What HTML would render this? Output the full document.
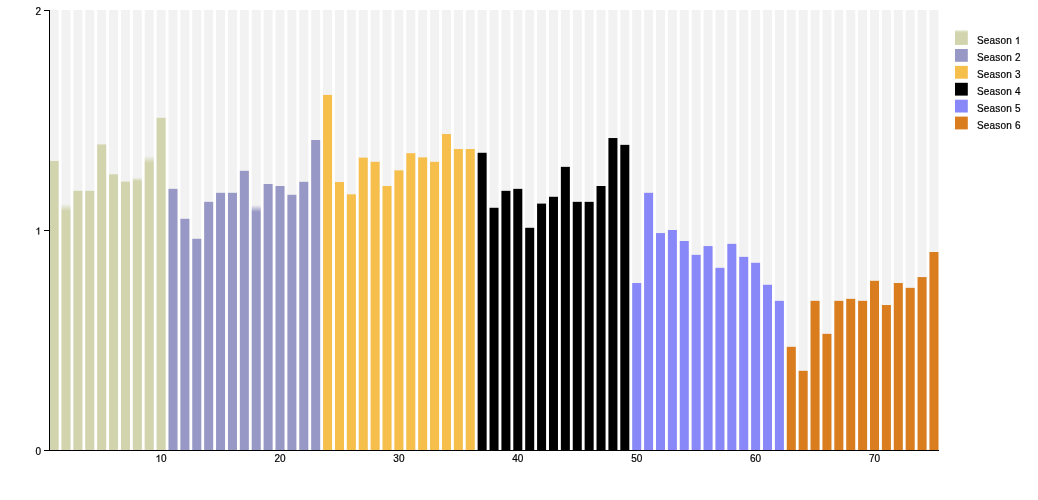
<!DOCTYPE html>
<html><head><meta charset="utf-8"><style>
html,body{margin:0;padding:0;background:#fff;width:1038px;height:500px;overflow:hidden}
svg{display:block;will-change:transform}
text{font-family:"Liberation Sans", sans-serif;font-size:10px;fill:#000;stroke:#000;stroke-width:0.2px}
.lg{letter-spacing:0.17px}
</style></head><body>
<svg width="1038" height="500" viewBox="0 0 1038 500">
<g fill="#f2f2f2"><rect x="49.60" y="10.0" width="9.0" height="440.0"/><rect x="61.49" y="10.0" width="9.0" height="440.0"/><rect x="73.38" y="10.0" width="9.0" height="440.0"/><rect x="85.27" y="10.0" width="9.0" height="440.0"/><rect x="97.16" y="10.0" width="9.0" height="440.0"/><rect x="109.05" y="10.0" width="9.0" height="440.0"/><rect x="120.94" y="10.0" width="9.0" height="440.0"/><rect x="132.83" y="10.0" width="9.0" height="440.0"/><rect x="144.72" y="10.0" width="9.0" height="440.0"/><rect x="156.61" y="10.0" width="9.0" height="440.0"/><rect x="168.50" y="10.0" width="9.0" height="440.0"/><rect x="180.39" y="10.0" width="9.0" height="440.0"/><rect x="192.28" y="10.0" width="9.0" height="440.0"/><rect x="204.17" y="10.0" width="9.0" height="440.0"/><rect x="216.06" y="10.0" width="9.0" height="440.0"/><rect x="227.95" y="10.0" width="9.0" height="440.0"/><rect x="239.84" y="10.0" width="9.0" height="440.0"/><rect x="251.73" y="10.0" width="9.0" height="440.0"/><rect x="263.62" y="10.0" width="9.0" height="440.0"/><rect x="275.51" y="10.0" width="9.0" height="440.0"/><rect x="287.40" y="10.0" width="9.0" height="440.0"/><rect x="299.29" y="10.0" width="9.0" height="440.0"/><rect x="311.18" y="10.0" width="9.0" height="440.0"/><rect x="323.07" y="10.0" width="9.0" height="440.0"/><rect x="334.96" y="10.0" width="9.0" height="440.0"/><rect x="346.85" y="10.0" width="9.0" height="440.0"/><rect x="358.74" y="10.0" width="9.0" height="440.0"/><rect x="370.63" y="10.0" width="9.0" height="440.0"/><rect x="382.52" y="10.0" width="9.0" height="440.0"/><rect x="394.41" y="10.0" width="9.0" height="440.0"/><rect x="406.30" y="10.0" width="9.0" height="440.0"/><rect x="418.19" y="10.0" width="9.0" height="440.0"/><rect x="430.08" y="10.0" width="9.0" height="440.0"/><rect x="441.97" y="10.0" width="9.0" height="440.0"/><rect x="453.86" y="10.0" width="9.0" height="440.0"/><rect x="465.75" y="10.0" width="9.0" height="440.0"/><rect x="477.64" y="10.0" width="9.0" height="440.0"/><rect x="489.53" y="10.0" width="9.0" height="440.0"/><rect x="501.42" y="10.0" width="9.0" height="440.0"/><rect x="513.31" y="10.0" width="9.0" height="440.0"/><rect x="525.20" y="10.0" width="9.0" height="440.0"/><rect x="537.09" y="10.0" width="9.0" height="440.0"/><rect x="548.98" y="10.0" width="9.0" height="440.0"/><rect x="560.87" y="10.0" width="9.0" height="440.0"/><rect x="572.76" y="10.0" width="9.0" height="440.0"/><rect x="584.65" y="10.0" width="9.0" height="440.0"/><rect x="596.54" y="10.0" width="9.0" height="440.0"/><rect x="608.43" y="10.0" width="9.0" height="440.0"/><rect x="620.32" y="10.0" width="9.0" height="440.0"/><rect x="632.21" y="10.0" width="9.0" height="440.0"/><rect x="644.10" y="10.0" width="9.0" height="440.0"/><rect x="655.99" y="10.0" width="9.0" height="440.0"/><rect x="667.88" y="10.0" width="9.0" height="440.0"/><rect x="679.77" y="10.0" width="9.0" height="440.0"/><rect x="691.66" y="10.0" width="9.0" height="440.0"/><rect x="703.55" y="10.0" width="9.0" height="440.0"/><rect x="715.44" y="10.0" width="9.0" height="440.0"/><rect x="727.33" y="10.0" width="9.0" height="440.0"/><rect x="739.22" y="10.0" width="9.0" height="440.0"/><rect x="751.11" y="10.0" width="9.0" height="440.0"/><rect x="763.00" y="10.0" width="9.0" height="440.0"/><rect x="774.89" y="10.0" width="9.0" height="440.0"/><rect x="786.78" y="10.0" width="9.0" height="440.0"/><rect x="798.67" y="10.0" width="9.0" height="440.0"/><rect x="810.56" y="10.0" width="9.0" height="440.0"/><rect x="822.45" y="10.0" width="9.0" height="440.0"/><rect x="834.34" y="10.0" width="9.0" height="440.0"/><rect x="846.23" y="10.0" width="9.0" height="440.0"/><rect x="858.12" y="10.0" width="9.0" height="440.0"/><rect x="870.01" y="10.0" width="9.0" height="440.0"/><rect x="881.90" y="10.0" width="9.0" height="440.0"/><rect x="893.79" y="10.0" width="9.0" height="440.0"/><rect x="905.68" y="10.0" width="9.0" height="440.0"/><rect x="917.57" y="10.0" width="9.0" height="440.0"/><rect x="929.46" y="10.0" width="9.0" height="440.0"/></g>
<defs><linearGradient id="f2" gradientUnits="userSpaceOnUse" x1="0" y1="203.8" x2="0" y2="211.0"><stop offset="0" stop-color="#d1d4ad" stop-opacity="0"/><stop offset="1" stop-color="#d1d4ad" stop-opacity="1"/></linearGradient><linearGradient id="f8" gradientUnits="userSpaceOnUse" x1="0" y1="177.4" x2="0" y2="181.2"><stop offset="0" stop-color="#d1d4ad" stop-opacity="0"/><stop offset="1" stop-color="#d1d4ad" stop-opacity="1"/></linearGradient><linearGradient id="f9" gradientUnits="userSpaceOnUse" x1="0" y1="155.8" x2="0" y2="163.0"><stop offset="0" stop-color="#d1d4ad" stop-opacity="0"/><stop offset="1" stop-color="#d1d4ad" stop-opacity="1"/></linearGradient><linearGradient id="f18" gradientUnits="userSpaceOnUse" x1="0" y1="205.0" x2="0" y2="211.8"><stop offset="0" stop-color="#9898c6" stop-opacity="0"/><stop offset="1" stop-color="#9898c6" stop-opacity="1"/></linearGradient><linearGradient id="lg1" x1="0" y1="0" x2="0" y2="1"><stop offset="0" stop-color="#d1d4ad" stop-opacity="0"/><stop offset="1" stop-color="#d1d4ad" stop-opacity="1"/></linearGradient></defs>
<rect x="49.60" y="160.92" width="9.0" height="289.08" fill="#d1d4ad"/><rect x="61.49" y="203.80" width="9.0" height="246.20" fill="url(#f2)"/><rect x="73.38" y="190.84" width="9.0" height="259.16" fill="#d1d4ad"/><rect x="85.27" y="190.84" width="9.0" height="259.16" fill="#d1d4ad"/><rect x="97.16" y="144.42" width="9.0" height="305.58" fill="#d1d4ad"/><rect x="109.05" y="174.34" width="9.0" height="275.66" fill="#d1d4ad"/><rect x="120.94" y="181.60" width="9.0" height="268.40" fill="#d1d4ad"/><rect x="132.83" y="177.40" width="9.0" height="272.60" fill="url(#f8)"/><rect x="144.72" y="155.80" width="9.0" height="294.20" fill="url(#f9)"/><rect x="156.61" y="117.80" width="9.0" height="332.20" fill="#d1d4ad"/><rect x="168.50" y="188.86" width="9.0" height="261.14" fill="#9898c6"/><rect x="180.39" y="218.78" width="9.0" height="231.22" fill="#9898c6"/><rect x="192.28" y="238.80" width="9.0" height="211.20" fill="#9898c6"/><rect x="204.17" y="201.84" width="9.0" height="248.16" fill="#9898c6"/><rect x="216.06" y="192.82" width="9.0" height="257.18" fill="#9898c6"/><rect x="227.95" y="192.82" width="9.0" height="257.18" fill="#9898c6"/><rect x="239.84" y="170.82" width="9.0" height="279.18" fill="#9898c6"/><rect x="251.73" y="205.00" width="9.0" height="245.00" fill="url(#f18)"/><rect x="263.62" y="184.02" width="9.0" height="265.98" fill="#9898c6"/><rect x="275.51" y="186.00" width="9.0" height="264.00" fill="#9898c6"/><rect x="287.40" y="194.80" width="9.0" height="255.20" fill="#9898c6"/><rect x="299.29" y="181.82" width="9.0" height="268.18" fill="#9898c6"/><rect x="311.18" y="140.02" width="9.0" height="309.98" fill="#9898c6"/><rect x="323.07" y="94.92" width="9.0" height="355.08" fill="#f6be4a"/><rect x="334.96" y="182.04" width="9.0" height="267.96" fill="#f6be4a"/><rect x="346.85" y="194.36" width="9.0" height="255.64" fill="#f6be4a"/><rect x="358.74" y="157.62" width="9.0" height="292.38" fill="#f6be4a"/><rect x="370.63" y="161.80" width="9.0" height="288.20" fill="#f6be4a"/><rect x="382.52" y="186.00" width="9.0" height="264.00" fill="#f6be4a"/><rect x="394.41" y="170.38" width="9.0" height="279.62" fill="#f6be4a"/><rect x="406.30" y="153.22" width="9.0" height="296.78" fill="#f6be4a"/><rect x="418.19" y="157.40" width="9.0" height="292.60" fill="#f6be4a"/><rect x="430.08" y="161.80" width="9.0" height="288.20" fill="#f6be4a"/><rect x="441.97" y="134.08" width="9.0" height="315.92" fill="#f6be4a"/><rect x="453.86" y="149.04" width="9.0" height="300.96" fill="#f6be4a"/><rect x="465.75" y="149.04" width="9.0" height="300.96" fill="#f6be4a"/><rect x="477.64" y="152.78" width="9.0" height="297.22" fill="#000000"/><rect x="489.53" y="207.78" width="9.0" height="242.22" fill="#000000"/><rect x="501.42" y="190.84" width="9.0" height="259.16" fill="#000000"/><rect x="513.31" y="188.86" width="9.0" height="261.14" fill="#000000"/><rect x="525.20" y="227.80" width="9.0" height="222.20" fill="#000000"/><rect x="537.09" y="203.60" width="9.0" height="246.40" fill="#000000"/><rect x="548.98" y="196.78" width="9.0" height="253.22" fill="#000000"/><rect x="560.87" y="166.86" width="9.0" height="283.14" fill="#000000"/><rect x="572.76" y="201.84" width="9.0" height="248.16" fill="#000000"/><rect x="584.65" y="201.84" width="9.0" height="248.16" fill="#000000"/><rect x="596.54" y="186.00" width="9.0" height="264.00" fill="#000000"/><rect x="608.43" y="138.04" width="9.0" height="311.96" fill="#000000"/><rect x="620.32" y="144.86" width="9.0" height="305.14" fill="#000000"/><rect x="632.21" y="283.02" width="9.0" height="166.98" fill="#8888f9"/><rect x="644.10" y="192.82" width="9.0" height="257.18" fill="#8888f9"/><rect x="655.99" y="233.08" width="9.0" height="216.92" fill="#8888f9"/><rect x="667.88" y="230.00" width="9.0" height="220.00" fill="#8888f9"/><rect x="679.77" y="241.00" width="9.0" height="209.00" fill="#8888f9"/><rect x="691.66" y="254.86" width="9.0" height="195.14" fill="#8888f9"/><rect x="703.55" y="246.06" width="9.0" height="203.94" fill="#8888f9"/><rect x="715.44" y="267.84" width="9.0" height="182.16" fill="#8888f9"/><rect x="727.33" y="243.86" width="9.0" height="206.14" fill="#8888f9"/><rect x="739.22" y="256.84" width="9.0" height="193.16" fill="#8888f9"/><rect x="751.11" y="262.78" width="9.0" height="187.22" fill="#8888f9"/><rect x="763.00" y="284.78" width="9.0" height="165.22" fill="#8888f9"/><rect x="774.89" y="300.84" width="9.0" height="149.16" fill="#8888f9"/><rect x="786.78" y="346.82" width="9.0" height="103.18" fill="#da7d1e"/><rect x="798.67" y="370.80" width="9.0" height="79.20" fill="#da7d1e"/><rect x="810.56" y="300.84" width="9.0" height="149.16" fill="#da7d1e"/><rect x="822.45" y="333.84" width="9.0" height="116.16" fill="#da7d1e"/><rect x="834.34" y="300.84" width="9.0" height="149.16" fill="#da7d1e"/><rect x="846.23" y="298.86" width="9.0" height="151.14" fill="#da7d1e"/><rect x="858.12" y="300.84" width="9.0" height="149.16" fill="#da7d1e"/><rect x="870.01" y="280.82" width="9.0" height="169.18" fill="#da7d1e"/><rect x="881.90" y="305.02" width="9.0" height="144.98" fill="#da7d1e"/><rect x="893.79" y="283.02" width="9.0" height="166.98" fill="#da7d1e"/><rect x="905.68" y="287.86" width="9.0" height="162.14" fill="#da7d1e"/><rect x="917.57" y="277.08" width="9.0" height="172.92" fill="#da7d1e"/><rect x="929.46" y="252.00" width="9.0" height="198.00" fill="#da7d1e"/>
<g shape-rendering="crispEdges" stroke="#000" fill="none"><path d="M44,10.5H49.5V450.5H44"/><path d="M44,230.5H49.5"/><path d="M49.5,450.5H939"/></g>
<text x="41" y="451.4" dy=".32em" text-anchor="end">0</text><path d="M763 0L583 0L583 1147Q518 1085 412.5 1023Q307 961 223 930L223 1104Q374 1175 487 1276Q600 1377 647 1472L763 1472Z" transform="translate(35.44,234.60) scale(0.004883,-0.004883)" fill="#000" stroke="#000" stroke-width="0.2" vector-effect="non-scaling-stroke"/><text x="41" y="11.4" dy=".32em" text-anchor="end">2</text><path d="M763 0L583 0L583 1147Q518 1085 412.5 1023Q307 961 223 930L223 1104Q374 1175 487 1276Q600 1377 647 1472L763 1472Z" transform="translate(155.55,462.00) scale(0.004883,-0.004883)" fill="#000" stroke="#000" stroke-width="0.2" vector-effect="non-scaling-stroke"/><text x="161.11" y="462">0</text><text x="280.01" y="462" text-anchor="middle">20</text><text x="398.91" y="462" text-anchor="middle">30</text><text x="517.81" y="462" text-anchor="middle">40</text><text x="636.71" y="462" text-anchor="middle">50</text><text x="755.61" y="462" text-anchor="middle">60</text><text x="874.51" y="462" text-anchor="middle">70</text>
<rect x="955" y="32.10" width="12.8" height="12.8" fill="#d1d4ad"/><rect x="955" y="29.50" width="12.8" height="2.6" fill="url(#lg1)"/><text class="lg" x="977" y="44.00">Season </text><path d="M763 0L583 0L583 1147Q518 1085 412.5 1023Q307 961 223 930L223 1104Q374 1175 487 1276Q600 1377 647 1472L763 1472Z" transform="translate(1014.88,44.00) scale(0.004883,-0.004883)" fill="#000" stroke="#000" stroke-width="0.2" vector-effect="non-scaling-stroke"/><rect x="955" y="49.00" width="12.8" height="12.8" fill="#9898c6"/><text class="lg" x="977" y="60.90">Season 2</text><rect x="955" y="65.90" width="12.8" height="12.8" fill="#f6be4a"/><text class="lg" x="977" y="77.80">Season 3</text><rect x="955" y="82.80" width="12.8" height="12.8" fill="#000000"/><text class="lg" x="977" y="94.70">Season 4</text><rect x="955" y="99.70" width="12.8" height="12.8" fill="#8888f9"/><text class="lg" x="977" y="111.60">Season 5</text><rect x="955" y="116.60" width="12.8" height="12.8" fill="#da7d1e"/><text class="lg" x="977" y="128.50">Season 6</text>
</svg>
</body></html>
